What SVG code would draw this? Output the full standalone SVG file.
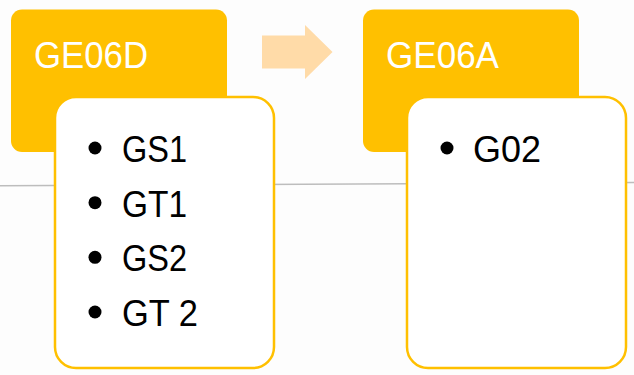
<svg xmlns="http://www.w3.org/2000/svg" width="634" height="375" viewBox="0 0 634 375">
  <style>
    .head { fill: #ffc000; }
    .card { fill: #ffffff; stroke: #ffc000; stroke-width: 2.5; }
    .title { font-family: "Liberation Sans", Arial, sans-serif; font-size: 37px; fill: #ffffff; }
    .item { font-family: "Liberation Sans", Arial, sans-serif; font-size: 36px; fill: #000000; }
    .dot { fill: #000000; }
  </style>
  <rect width="634" height="375" fill="#fdfdfd"/>
  <line x1="0" y1="185.8" x2="634" y2="182.6" stroke="#bdbdbd" stroke-width="1.5"/>
  <g id="connectors">
    <polygon points="262,35.5 305,35.5 305,25 332.5,52 305,79 305,68.5 262,68.5" fill="#ffdba8"/>
  </g>
  <g id="node-GE06D">
    <rect class="head" x="11" y="9.5" width="216" height="142.5" rx="11"/>
    <text class="title" x="34" y="68" textLength="114" lengthAdjust="spacingAndGlyphs">GE06D</text>
    <rect class="card" x="55" y="97" width="219" height="271" rx="21"/>
    <circle class="dot" cx="95" cy="148" r="6.5"/>
    <text class="item" x="122" y="162" textLength="65" lengthAdjust="spacingAndGlyphs">GS1</text>
    <circle class="dot" cx="95" cy="202.7" r="6.5"/>
    <text class="item" x="122" y="216.5" textLength="65" lengthAdjust="spacingAndGlyphs">GT1</text>
    <circle class="dot" cx="95" cy="257.3" r="6.5"/>
    <text class="item" x="122" y="271" textLength="65" lengthAdjust="spacingAndGlyphs">GS2</text>
    <circle class="dot" cx="95" cy="312" r="6.5"/>
    <text class="item" x="122" y="325.7" textLength="76" lengthAdjust="spacingAndGlyphs">GT 2</text>
  </g>
  <g id="node-GE06A">
    <rect class="head" x="363" y="9.5" width="216" height="142.5" rx="11"/>
    <text class="title" x="386" y="68" textLength="113" lengthAdjust="spacingAndGlyphs">GE06A</text>
    <rect class="card" x="407" y="97" width="219" height="271" rx="21"/>
    <circle class="dot" cx="447" cy="148" r="6.5"/>
    <text class="item" x="473" y="162" textLength="68" lengthAdjust="spacingAndGlyphs">G02</text>
  </g>
</svg>
